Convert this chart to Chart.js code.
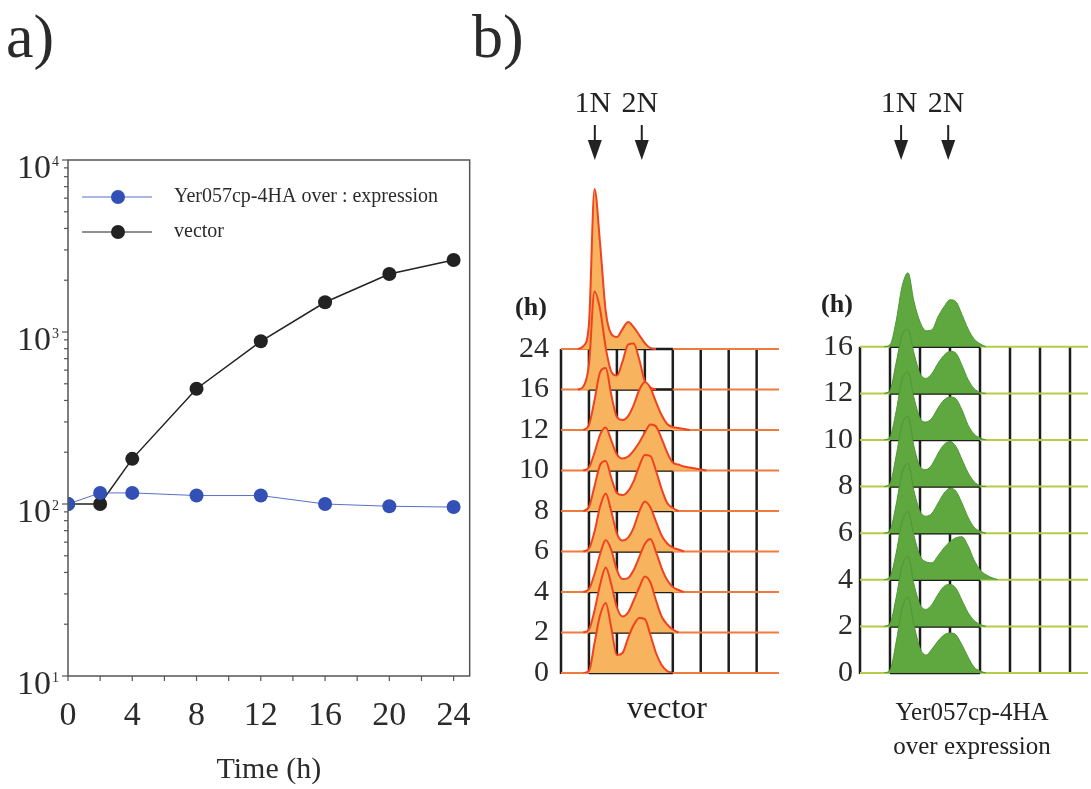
<!DOCTYPE html>
<html>
<head>
<meta charset="utf-8">
<script src="https://cdn.jsdelivr.net/npm/chart.js@4.4.1/dist/chart.umd.min.js"></script>
<style>
  body { margin: 0; background: #fff; }
  #wrap { position: relative; width: 1091px; height: 789px; overflow: hidden; font-family: "Liberation Serif", serif; color: #2b2b2b; }
  canvas { position: absolute; }
  .tag { position: absolute; font-size: 62px; line-height: 1; }
</style>
</head>
<body>
<div id="wrap">
  <div class="tag" style="left:6px;top:5px">a)</div>
  <div class="tag" style="left:472px;top:5px">b)</div>
  <canvas id="growth" width="491" height="640" style="left:0;top:150px"></canvas>
  <canvas id="vecHist" width="290" height="700" style="left:500px;top:80px"></canvas>
  <canvas id="oeHist" width="291" height="700" style="left:800px;top:80px"></canvas>
</div>
<script>
// a) growth curve
const times = [0, 2, 4, 8, 12, 16, 20, 24];
const timeLabels = [0, 4, 8, 12, 16, 20, 24];
const overexpression = [100, 116, 116, 112, 112, 100, 97, 96];
const vector = [100, 100, 183, 468, 883, 1489, 2175, 2623];

// b) DNA content histograms (channel in grid units, counts per row)
const vecRows = ['0', '2', '4', '6', '8', '10', '12', '16', '24'];
const vecChannels = [0.6, 0.8, 1.0, 1.2, 1.4, 1.6, 1.8, 2.0, 2.2, 2.4, 2.6, 2.8, 3.0, 3.2, 3.4, 3.6, 3.8, 4.0, 4.2, 4.4, 4.6, 4.8, 5.0, 5.2];
const vec0 = [0, 0, 2, 30, 58, 70, 45, 18, 20, 35, 48, 55, 54, 38, 20, 8, 2, 0, 0, 0, 0, 0, 0, 0];
const vec2 = [0, 0, 3, 22, 48, 65, 48, 25, 16, 20, 32, 45, 56, 50, 32, 16, 8, 3, 0, 0, 0, 0, 0, 0];
const vec4 = [0, 0, 3, 18, 38, 52, 42, 22, 13, 14, 22, 35, 48, 53, 40, 24, 12, 5, 2, 0, 0, 0, 0, 0];
const vec6 = [0, 0, 3, 20, 45, 58, 40, 18, 11, 14, 24, 40, 50, 44, 30, 16, 8, 4, 2, 0, 0, 0, 0, 0];
const vec8 = [0, 0, 4, 25, 46, 50, 33, 18, 16, 20, 30, 45, 56, 55, 40, 22, 8, 3, 0, 0, 0, 0, 0, 0];
const vec10 = [0, 0, 3, 18, 36, 43, 30, 16, 12, 14, 20, 28, 38, 46, 44, 32, 18, 8, 6, 4, 3, 2, 1, 0];
const vec12 = [0, 0, 5, 30, 58, 62, 35, 13, 10, 14, 25, 40, 48, 42, 28, 15, 6, 3, 2, 1, 0, 0, 0, 0];
const vec16 = [0, 3, 25, 98, 80, 42, 18, 14, 28, 45, 46, 30, 8, 2, 0, 0, 0, 0, 0, 0, 0, 0, 0, 0];
const vec24 = [0, 3, 25, 160, 105, 38, 15, 12, 20, 27, 22, 14, 6, 1, 0, 0, 0, 0, 0, 0, 0, 0, 0, 0];
const vecMarkers = [1.21, 2.89];

const oeRows = ['0', '2', '4', '6', '8', '10', '12', '16'];
const oeChannels = [0.8, 1.0, 1.2, 1.4, 1.6, 1.8, 2.0, 2.2, 2.4, 2.6, 2.8, 3.0, 3.2, 3.4, 3.6, 3.8, 4.0, 4.2, 4.4, 4.6];
const oe0 = [0, 3, 30, 64, 76, 48, 25, 18, 24, 32, 38, 40, 38, 28, 16, 6, 2, 0, 0, 0];
const oe2 = [0, 3, 28, 60, 70, 42, 22, 17, 22, 32, 40, 42, 38, 26, 14, 6, 2, 0, 0, 0];
const oe4 = [0, 3, 26, 58, 68, 44, 24, 18, 17, 24, 32, 38, 42, 43, 34, 20, 10, 5, 2, 0];
const oe6 = [0, 3, 28, 60, 70, 42, 22, 17, 20, 30, 40, 45, 42, 30, 16, 6, 2, 0, 0, 0];
const oe8 = [0, 3, 30, 62, 70, 40, 20, 17, 22, 33, 42, 45, 40, 27, 14, 5, 1, 0, 0, 0];
const oe10 = [0, 3, 28, 60, 68, 42, 22, 18, 22, 32, 40, 43, 41, 30, 15, 6, 2, 0, 0, 0];
const oe12 = [0, 3, 30, 58, 64, 40, 20, 15, 20, 30, 38, 42, 40, 28, 14, 5, 1, 0, 0, 0];
const oe16 = [0, 2, 25, 60, 74, 45, 25, 16, 17, 30, 40, 47, 45, 32, 18, 8, 3, 0, 0, 0];
const oeMarkers = [1.37, 2.94];

const serif = 'Liberation Serif';
const ink = '#2b2b2b';

function line(ctx, x1, y1, x2, y2) {
  ctx.beginPath();
  ctx.moveTo(x1, y1);
  ctx.lineTo(x2, y2);
  ctx.stroke();
}

// frame, ticks, 10^n labels and legend for panel a
const growthDecor = {
  id: 'growthDecor',
  afterDraw(chart) {
    const { ctx, chartArea: ca, scales: { x, y } } = chart;
    ctx.save();
    ctx.strokeStyle = '#555';
    ctx.lineWidth = 1.5;
    ctx.strokeRect(ca.left, ca.top, ca.right - ca.left, ca.bottom - ca.top);

    ctx.lineWidth = 1.2;
    for (let d = 1; d <= 4; d++) {
      for (let m = 1; m <= 9; m++) {
        const v = m * Math.pow(10, d);
        if (v > 10000) break;
        const py = y.getPixelForValue(v);
        line(ctx, ca.left - (m === 1 ? 6 : 4), py, ca.left, py);
      }
    }
    for (let t = 0; t <= 24; t += 2) {
      const px = x.getPixelForValue(t);
      line(ctx, px, ca.bottom, px, ca.bottom + 5);
    }

    ctx.fillStyle = ink;
    for (let d = 1; d <= 4; d++) {
      const py = y.getPixelForValue(Math.pow(10, d));
      ctx.textAlign = 'right';
      ctx.textBaseline = 'alphabetic';
      ctx.font = '34px "' + serif + '"';
      ctx.fillText('10', 51, py + 18);
      ctx.textAlign = 'left';
      ctx.font = '14px "' + serif + '"';
      ctx.fillText(String(d), 52, py + 6);
    }

    chart.data.datasets.forEach((ds, i) => {
      const ly = 47 + i * 35;
      ctx.strokeStyle = ds.borderColor;
      ctx.lineWidth = 1;
      line(ctx, 82, ly, 152, ly);
      ctx.fillStyle = ds.pointBackgroundColor;
      ctx.beginPath();
      ctx.arc(118, ly, 7, 0, Math.PI * 2);
      ctx.fill();
      ctx.fillStyle = ink;
      ctx.font = '20px "' + serif + '"';
      ctx.textAlign = 'left';
      ctx.textBaseline = 'middle';
      ctx.fillText(ds.label, 174, ly);
    });
    ctx.restore();
  }
};

new Chart(document.getElementById('growth'), {
  type: 'line',
  data: {
    datasets: [
      {
        label: 'Yer057cp-4HA over : expression',
        data: times.map((t, i) => ({ x: t, y: overexpression[i] })),
        borderColor: '#5a70c4',
        borderWidth: 1,
        pointRadius: 7,
        pointBackgroundColor: '#3350b6',
        pointBorderWidth: 0
      },
      {
        label: 'vector',
        data: times.map((t, i) => ({ x: t, y: vector[i] })),
        borderColor: '#222',
        borderWidth: 1.5,
        pointRadius: 7,
        pointBackgroundColor: '#222',
        pointBorderWidth: 0
      }
    ]
  },
  options: {
    responsive: false,
    animation: false,
    layout: { padding: { top: 10, right: 10, left: 0, bottom: 0 } },
    plugins: { legend: { display: false }, tooltip: { enabled: false } },
    scales: {
      x: {
        type: 'linear',
        min: 0,
        max: 25,
        grid: { display: false, drawTicks: false },
        border: { display: false },
        ticks: { autoSkip: false, maxRotation: 0, font: { family: serif, size: 34 }, color: ink, padding: 20 },
        afterBuildTicks: s => { s.ticks = timeLabels.map(v => ({ value: v })); },
        title: { display: true, text: 'Time (h)', font: { family: serif, size: 30 }, color: ink, padding: { top: 0, bottom: 2 } },
        afterFit: s => { s.height = 114; }
      },
      y: {
        type: 'logarithmic',
        min: 10,
        max: 10000,
        grid: { display: false, drawTicks: false },
        border: { display: false },
        ticks: { display: false },
        afterFit: s => { s.width = 68; }
      }
    }
  },
  plugins: [growthDecor]
});

// stacked histograms, row 0 in front
function histSets(channels, rows, perRow, fill, edge, edgeWidth) {
  return rows.map((counts, r) => {
    let a = Math.max(counts.findIndex(v => v > 0) - 1, 0);
    let b = counts.length - 1;
    while (b > 0 && counts[b] === 0) b--;
    b = Math.min(b + 1, counts.length - 1);
    const pts = [];
    for (let i = a; i <= b; i++) pts.push({ x: channels[i], y: r + counts[i] / perRow });
    return {
      data: pts,
      fill: { value: r },
      backgroundColor: fill,
      borderColor: edge,
      borderWidth: edgeWidth,
      pointRadius: 0,
      cubicInterpolationMode: 'monotone'
    };
  });
}

function stackDecor(cfg) {
  return {
    id: 'stackDecor',
    beforeDatasetsDraw(chart) {
      const { ctx, chartArea: ca, scales: { x, y } } = chart;
      const n = cfg.labels.length;
      ctx.save();
      ctx.strokeStyle = '#1d1d1d';
      ctx.lineWidth = 2.5;
      for (let k = 0; k <= 7; k++) {
        const px = x.getPixelForValue(k);
        line(ctx, px, y.getPixelForValue(0) + 1, px, y.getPixelForValue(n - 1));
      }
      for (let r = 0; r < n; r++) {
        const py = y.getPixelForValue(r);
        ctx.strokeStyle = cfg.rule;
        ctx.lineWidth = 2;
        line(ctx, x.getPixelForValue(0), py, ca.right, py);
        ctx.strokeStyle = '#1d1d1d';
        ctx.lineWidth = 2.5;
        line(ctx, x.getPixelForValue(1), py, x.getPixelForValue(4), py);
      }
      ctx.restore();
    },
    afterDraw(chart) {
      const { ctx, scales: { x } } = chart;
      ctx.save();
      ctx.fillStyle = '#222';
      ctx.strokeStyle = '#222';
      ctx.textAlign = 'center';
      ctx.textBaseline = 'middle';
      ['1N', '2N'].forEach((lab, i) => {
        const px = x.getPixelForValue(cfg.markers[i]);
        ctx.font = '30px "' + serif + '"';
        ctx.fillText(lab, px - 2, 24);
        ctx.lineWidth = 2;
        line(ctx, px, 45, px, 62);
        ctx.beginPath();
        ctx.moveTo(px - 7, 60);
        ctx.lineTo(px + 7, 60);
        ctx.lineTo(px, 80);
        ctx.closePath();
        ctx.fill();
      });
      ctx.font = 'bold 26px "' + serif + '"';
      ctx.fillText('(h)', cfg.hPos[0], cfg.hPos[1]);
      ctx.font = cfg.captionFont;
      cfg.caption.forEach((txt, i) => ctx.fillText(txt, cfg.captionPos[0], cfg.captionPos[1] + i * 34));
      ctx.restore();
    }
  };
}

function histChart(id, channels, rows, labels, perRow, colors, opts) {
  return new Chart(document.getElementById(id), {
    type: 'line',
    data: { datasets: histSets(channels, rows, perRow, colors.fill, colors.edge, colors.edgeWidth) },
    options: {
      responsive: false,
      animation: false,
      layout: { padding: { top: opts.top, right: opts.right, left: 0, bottom: 107 } },
      plugins: { legend: { display: false }, tooltip: { enabled: false } },
      scales: {
        x: { type: 'linear', display: false, min: 0, max: opts.xMax },
        y: {
          type: 'linear',
          min: 0,
          max: opts.yMax,
          grid: { display: false, drawTicks: false },
          border: { display: false },
          afterBuildTicks: s => { s.ticks = labels.map((_, i) => ({ value: i })); },
          ticks: { font: { family: serif, size: 30 }, color: ink, padding: opts.pad, callback: v => labels[v] },
          afterFit: s => { s.width = opts.axisWidth; }
        }
      }
    },
    plugins: [stackDecor({
      labels: labels,
      rule: colors.rule,
      markers: opts.markers,
      hPos: opts.hPos,
      caption: opts.caption,
      captionPos: opts.captionPos,
      captionFont: opts.captionFont
    })]
  });
}

histChart('vecHist', vecChannels, [vec0, vec2, vec4, vec6, vec8, vec10, vec12, vec16, vec24], vecRows, 40.5,
  { fill: '#f8b35e', edge: '#f0421f', edgeWidth: 2, rule: '#ef7b3c' },
  { top: 99, right: 11, xMax: 7.8, yMax: 12.2, pad: 12, axisWidth: 61, markers: vecMarkers,
    hPos: [31, 228], caption: ['vector'], captionPos: [167, 630], captionFont: '32px "' + serif + '"' });

histChart('oeHist', oeChannels, [oe0, oe2, oe4, oe6, oe8, oe10, oe12, oe16], oeRows, 46.6,
  { fill: '#5ea83f', edge: '#4d9633', edgeWidth: 1, rule: '#b5cc4a' },
  { top: 99, right: 3, xMax: 7.6, yMax: 10.6, pad: 7, axisWidth: 60, markers: oeMarkers,
    hPos: [37, 225], caption: ['Yer057cp-4HA', 'over expression'], captionPos: [172, 633], captionFont: '25px "' + serif + '"' });
</script>
</body>
</html>
